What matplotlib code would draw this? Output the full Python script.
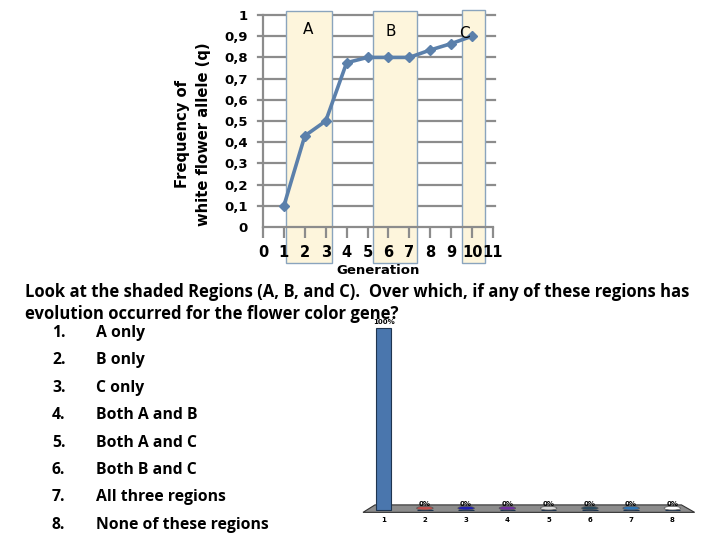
import matplotlib
matplotlib.use("Agg")
import matplotlib.pyplot as plt
from matplotlib.patches import Rectangle, Polygon, Ellipse

# allele frequency data
generations = [1, 2, 3, 4, 5, 6, 7, 8, 9, 10]
freq_q = [0.10, 0.43, 0.50, 0.775, 0.80, 0.80, 0.80, 0.835, 0.865, 0.90]
region_names = ["A", "B", "C"]
region_spans = [(1.08, 3.30), (5.27, 7.37), (9.50, 10.60)]

# clicker responses
answer_nums = ["1", "2", "3", "4", "5", "6", "7", "8"]
answer_pct = [100, 0, 0, 0, 0, 0, 0, 0]
answer_cols = ["#4a76ad", "#c0504d", "#2020b0", "#7030a0", "#d9d9d9",
               "#2b4a5e", "#2e75b6", "#ffffff"]
choices = ["A only", "B only", "C only", "Both A and B", "Both A and C",
           "Both B and C", "All three regions", "None of these regions"]

question = ["Look at the shaded Regions (A, B, and C).  Over which, if any of these regions has",
            "evolution occurred for the flower color gene?"]

W, H = 720, 540
fig = plt.figure(figsize=(7.2, 5.4), dpi=100)

# ---- top chart ----
ax = fig.add_axes([263 / W, 1 - 227 / H, 230 / W, 212 / H])
ax.set_xlim(0, 11)
ax.set_ylim(0, 1)
for y in [i / 10 for i in range(1, 11)]:
    ax.plot([-0.25, 11.1], [y, y], color="#8c8c8c", lw=1.6, zorder=0.3, clip_on=False)
for sp in ["top", "right"]:
    ax.spines[sp].set_visible(False)
for sp in ["left", "bottom"]:
    ax.spines[sp].set_color("#8c8c8c")
    ax.spines[sp].set_linewidth(1.6)
ax.tick_params(axis="y", length=0, pad=11, labelsize=9.5)
ax.tick_params(axis="x", length=8, width=1.6, color="#8c8c8c", pad=5, labelsize=10.5)
ax.set_xticks(range(0, 12))
ax.set_yticks([i / 10 for i in range(0, 11)])
ax.set_yticklabels(["0", "0,1", "0,2", "0,3", "0,4", "0,5", "0,6", "0,7", "0,8", "0,9", "1"])
for t in ax.get_xticklabels() + ax.get_yticklabels():
    t.set_fontweight("bold")

tops = [1.018, 1.020, 1.025]
for (x0, x1), top in zip(region_spans, tops):
    ax.add_patch(Rectangle((x0, -0.17), x1 - x0, top + 0.17, facecolor="#fdf5dc",
                           edgecolor="#8aa4bd", lw=1.0, zorder=0.6, clip_on=False))
label_pos = [(2.15, 0.93), (6.1, 0.92), (9.65, 0.915)]
for name, (lx, ly) in zip(region_names, label_pos):
    ax.text(lx, ly, name, ha="center", va="center", fontsize=11, zorder=5)

ax.plot(generations, freq_q, color="#5b80ab", lw=2.6, marker="D", markersize=5,
        zorder=4, clip_on=False)

ax.set_xlabel("Generation", fontsize=9.5, fontweight="bold", labelpad=3)
fig.text(193 / W, 1 - 134 / H, "Frequency of\nwhite flower allele (q)", rotation=90,
         ha="center", va="center", fontsize=10.6, fontweight="bold", multialignment="center",
         linespacing=1.55)

# ---- question text ----
fig.text(25 / W, 1 - 292 / H, question[0], fontsize=12, fontweight="bold",
         family="Open Sans", va="center")
fig.text(25 / W, 1 - 314 / H, question[1], fontsize=12, fontweight="bold",
         family="Open Sans", va="center")
for i, c in enumerate(choices):
    yy = 1 - (333 + 27.4 * i) / H
    fig.text(52 / W, yy, f"{i + 1}.", fontsize=11.3, fontweight="bold", family="Open Sans", va="center")
    fig.text(96 / W, yy, c, fontsize=11.3, fontweight="bold", family="Open Sans", va="center")

# ---- response bars ----
bx = fig.add_axes([363 / W, 1 - 510 / H, 330 / W, 182 / H])
bx.set_xlim(0.5, 8.5)
bx.set_ylim(0, 100)
bx.axis("off")
bx.add_patch(Polygon([(0.79, 2.8), (8.22, 2.8), (8.54, -1.3), (0.5, -1.3)],
                     closed=True, facecolor="#8c8c8c", edgecolor="#333333", lw=0.8,
                     clip_on=False, zorder=1))
xs = list(range(1, 9))
bx.bar(xs, answer_pct, width=0.38, color=answer_cols, edgecolor="#1f3550", lw=0.8, zorder=3,
       clip_on=False)
for x, p, c in zip(xs, answer_pct, answer_cols):
    if p == 0:
        bx.add_patch(Ellipse((x, 1.0), 0.4, 2.0, facecolor=c, edgecolor="#555555",
                             lw=0.5, zorder=3, clip_on=False))
    bx.text(x, p + 1.5, f"{p}%", ha="center", va="bottom", fontsize=5, fontweight="bold")
    bx.text(x, -5.5, str(x), ha="center", va="center", fontsize=5, fontweight="bold")

fig.savefig("out.png", dpi=100)
